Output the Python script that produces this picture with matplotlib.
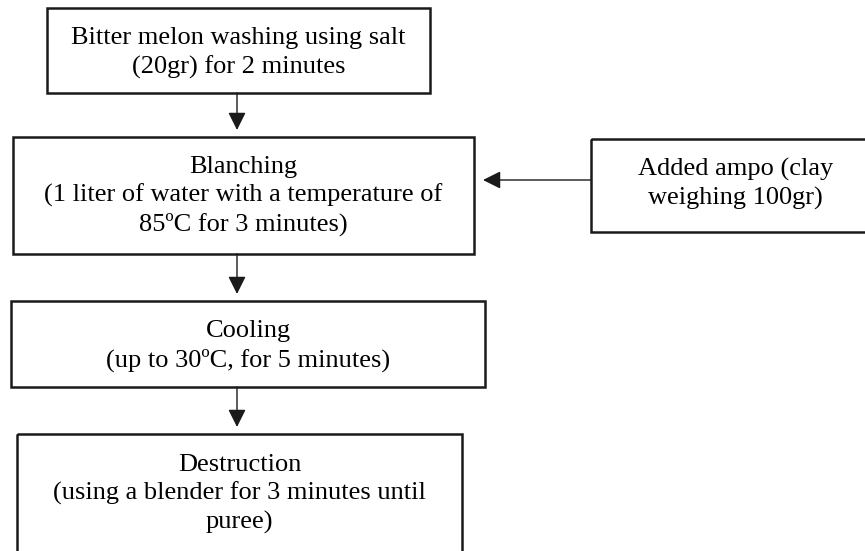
import matplotlib.pyplot as plt
from matplotlib.patches import Rectangle

# box texts of the flow chart
steps = [
    'Bitter melon washing using salt\n(20gr) for 2 minutes',
    'Blanching\n(1 liter of water with a temperature of\n85ºC for 3 minutes)',
    'Cooling\n(up to 30ºC, for 5 minutes)',
    'Destruction\n(using a blender for 3 minutes until\npuree)',
]
side_step = 'Added ampo (clay\nweighing 100gr)'

# layout in pixels: (left, top, right, bottom, text centre y)
step_boxes = [
    (47, 8, 430, 93, 53),
    (13, 137, 474, 254, 196),
    (11, 301, 485, 387, 346),
    (17, 434, 462, 570, 494),
]
side_box = (591, 139, 880, 232, 184)

plt.rcParams['font.family'] = ['Liberation Serif', 'DejaVu Serif']

fig = plt.figure(figsize=(8.65, 5.51), dpi=100)
ax = fig.add_axes([0, 0, 1, 1])
ax.set_xlim(0, 865)
ax.set_ylim(551, 0)
ax.axis('off')


def draw_box(box, label):
    x0, y0, x1, y1, ty = box
    ax.add_patch(Rectangle((x0, y0), x1 - x0, y1 - y0, fill=False,
                           edgecolor='#1a1a1a', linewidth=1.8))
    ax.text((x0 + x1) / 2, ty, label, ha='center', va='center',
            fontsize=19, linespacing=1.32, color='black')


def arrow(x0, y0, x1, y1):
    ax.annotate('', xy=(x1, y1), xytext=(x0, y0),
                arrowprops=dict(arrowstyle='-|>,head_length=0.6,head_width=0.3',
                                mutation_scale=18, color='#1a1a1a', lw=1.0,
                                shrinkA=0, shrinkB=0))


for box, label in zip(step_boxes, steps):
    draw_box(box, label)
draw_box(side_box, side_step)

# vertical arrows between steps
x_mid = 237
for upper, lower in zip(step_boxes[:-1], step_boxes[1:]):
    arrow(x_mid, upper[3], x_mid, lower[1] - 7)

# arrow from the side box into blanching
arrow(side_box[0], 180, step_boxes[1][2] + 9, 180)

fig.savefig('out.png', dpi=100)
